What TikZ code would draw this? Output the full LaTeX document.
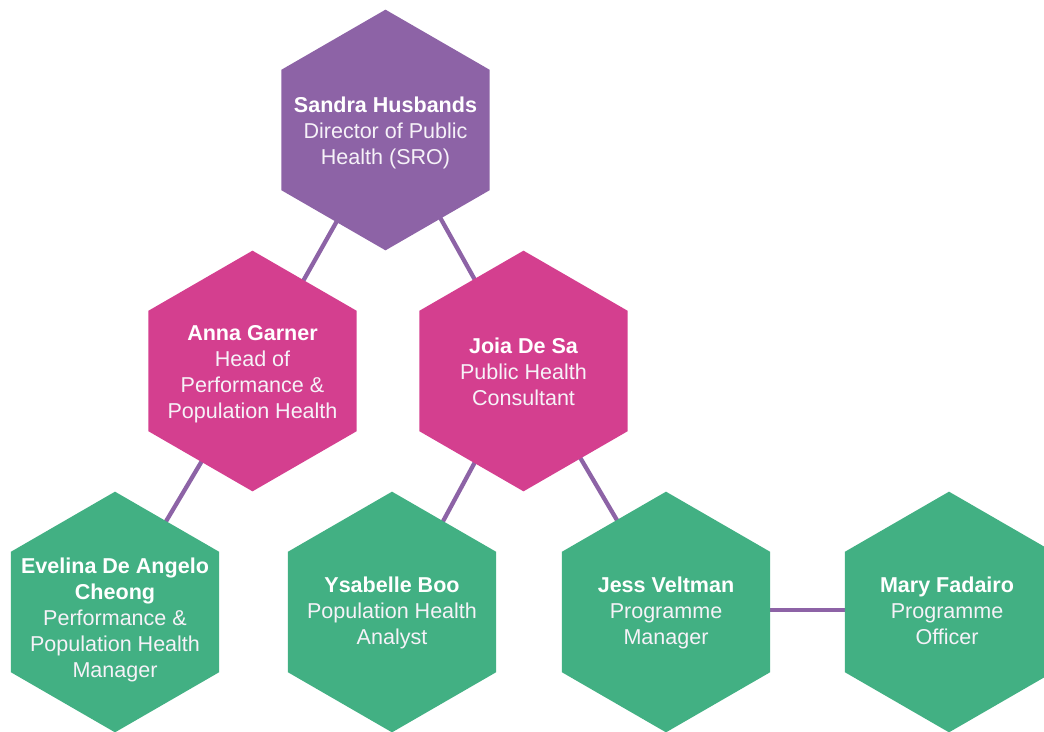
\documentclass[tikz,border=0pt]{standalone}
\usepackage{fontspec}
\setmainfont{Liberation Sans}
\usetikzlibrary{shapes.geometric,backgrounds}
\definecolor{hexpurple}{HTML}{8D63A6}
\definecolor{hexpink}{HTML}{D43F8F}
\definecolor{hexgreen}{HTML}{42B083}
\definecolor{hexline}{HTML}{8D63A6}
\definecolor{hextext}{HTML}{F6F2F8}
\tikzset{
  x=0.75pt,y=-0.75pt,
  hexa/.style={regular polygon,regular polygon sides=6,shape border rotate=30,minimum size=180.5pt,inner sep=0pt,outer sep=0pt,draw=none},
  hextxt/.style={align=center,text=hextext,font=\fontsize{16.15pt}{19.5pt}\selectfont,inner sep=0pt},
  link/.style={draw=hexline,line width=3.2pt,line cap=butt,shorten >=-3pt,shorten <=-3pt},
}
\newcommand{\nm}[1]{{\bfseries\color{white}#1}}
\begin{document}
\begin{tikzpicture}
\clip (0,0) rectangle (1044,731);
\node[hexa,fill=hexpurple] (sandra) at (385.5,130) {};
\node[hexa,fill=hexpink] (anna) at (252.5,371) {};
\node[hexa,fill=hexpink] (joia) at (523.5,371) {};
\node[hexa,fill=hexgreen] (evelina) at (115,612) {};
\node[hexa,fill=hexgreen] (ysabelle) at (392,612) {};
\node[hexa,fill=hexgreen] (jess) at (666,612) {};
\node[hexa,fill=hexgreen] (mary) at (949,612) {};
\node[hextxt] (sandrat) at (385.5,133) {\nm{Sandra Husbands}\\Director of Public\\Health (SRO)};
\node[hextxt] (annat) at (252.5,374) {\nm{Anna Garner}\\Head of\\Performance \&\\Population Health};
\node[hextxt] (joiat) at (523.5,372) {\nm{Joia De Sa}\\Public Health\\Consultant};
\node[hextxt] (evelinat) at (115,620) {\nm{Evelina De Angelo}\\\nm{Cheong}\\Performance \&\\Population Health\\Manager};
\node[hextxt] (ysabellet) at (392,613) {\nm{Ysabelle Boo}\\Population Health\\Analyst};
\node[hextxt] (jesst) at (666,613) {\nm{Jess Veltman}\\Programme\\Manager};
\node[hextxt] (maryt) at (947,611) {\nm{Mary Fadairo}\\Programme\\Officer};
\begin{scope}[on background layer]
\fill[white] (0,0) rectangle (1044,731);
\draw[link] ([xshift=3pt]sandra.side 3) -- ([xshift=-1pt]anna.side 6);
\draw[link] ([xshift=3pt]sandra.side 4) -- ([xshift=3pt]joia.side 1);
\draw[link] ([xshift=1pt]anna.side 3) -- ([xshift=-1pt]evelina.side 6);
\draw[link] ([xshift=3pt]joia.side 3) -- ([xshift=-1pt]ysabelle.side 6);
\draw[link] ([xshift=5pt]joia.side 4) -- ([xshift=3pt]jess.side 1);
\draw[link] ([yshift=1.5pt]jess.side 5) -- ([yshift=1.5pt]mary.side 2);
\end{scope}
\end{tikzpicture}
\end{document}
